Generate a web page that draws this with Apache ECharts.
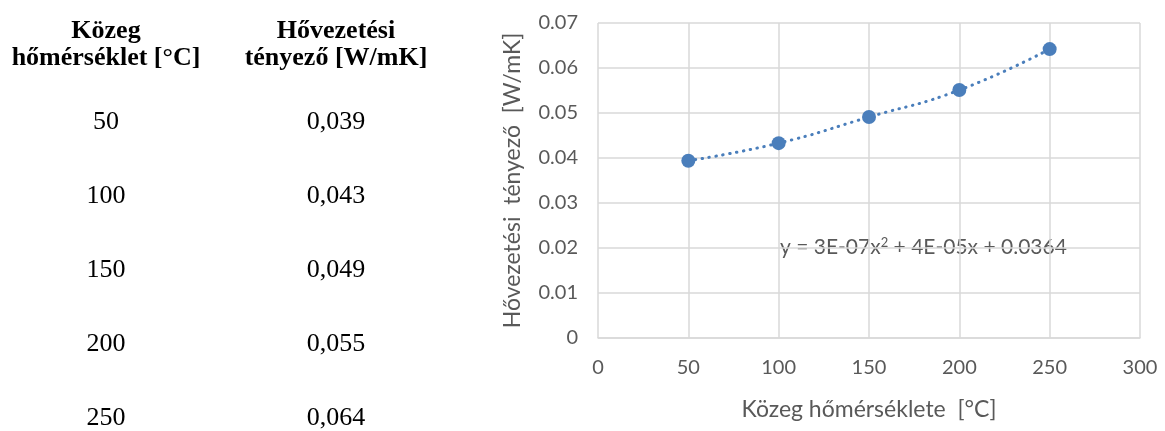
<!DOCTYPE html>
<html>
<head>
<meta charset="utf-8">
<script src="https://cdn.jsdelivr.net/npm/echarts@6/dist/echarts.min.js"></script>
<style>html,body{margin:0;padding:0;background:#fff;}#chart{width:1165px;height:431px;}</style>
</head>
<body>
<div id="chart"></div>
<script>
// Data
const temperatures = [50, 100, 150, 200, 250];
const tableConductivity = ['0,039', '0,043', '0,049', '0,055', '0,064'];
const chartConductivity = [0.0394, 0.0433, 0.0491, 0.0551, 0.0642];
const tableHeaders = [['Közeg', 'hőmérséklet [°C]'], ['Hővezetési', 'tényező [W/mK]']];
const xAxisTitle = 'Közeg hőmérséklete  [°C]';
const yAxisTitle = 'Hővezetési  tényező  [W/mK]';
const equationParts = ['y = 3E-07x', '2', ' + 4E-05x + 0.0364'];

const chart = echarts.init(document.getElementById('chart'));
const points = temperatures.map((t, i) => [t, chartConductivity[i]]);
const textColor = '#595959';
const serif = '"Liberation Serif", "Times New Roman", serif';
const sans = 'Lato, "Open Sans", sans-serif';
const colX = [106, 336];

const graphics = [];
tableHeaders.forEach((lines, c) => {
  lines.forEach((line, l) => {
    graphics.push({type: 'text', x: colX[c], y: 31 + l * 27,
      style: {text: line, font: 'bold 26px ' + serif, fill: '#000', textAlign: 'center', textVerticalAlign: 'middle'}});
  });
});
temperatures.forEach((t, i) => {
  const y = 122 + i * 74;
  graphics.push({type: 'text', x: colX[0], y: y,
    style: {text: String(t), font: '26px ' + serif, fill: '#000', textAlign: 'center', textVerticalAlign: 'middle'}});
  graphics.push({type: 'text', x: colX[1], y: y,
    style: {text: tableConductivity[i], font: '26px ' + serif, fill: '#000', textAlign: 'center', textVerticalAlign: 'middle'}});
});
graphics.push({type: 'text', x: 780, y: 247,
  style: {
    text: '{a|' + equationParts[0] + '}{s|' + equationParts[1] + '}{a|' + equationParts[2] + '}',
    textVerticalAlign: 'middle',
    rich: {
      a: {fontFamily: sans, fontSize: 21, fill: textColor, color: textColor},
      s: {fontFamily: sans, fontSize: 13, fill: textColor, color: textColor, verticalAlign: 'top', padding: [0, 0, 9, 0]}
    }
  }});

chart.setOption({
  animation: false,
  backgroundColor: '#fff',
  grid: {left: 598, top: 23, right: 25, bottom: 93},
  xAxis: {
    type: 'value', min: 0, max: 300, interval: 50,
    name: xAxisTitle, nameLocation: 'middle', nameGap: 60,
    nameTextStyle: {fontFamily: sans, fontSize: 23, color: textColor},
    axisLine: {show: true, lineStyle: {color: '#d9d9d9', width: 1.5}},
    axisTick: {show: false},
    axisLabel: {fontFamily: sans, fontSize: 20, color: textColor, margin: 20},
    splitLine: {show: true, lineStyle: {color: '#d9d9d9', width: 1.5}}
  },
  yAxis: {
    type: 'value', min: 0, max: 0.07, interval: 0.01,
    name: yAxisTitle, nameLocation: 'middle', nameGap: 74, nameRotate: 90,
    nameTextStyle: {fontFamily: sans, fontSize: 23, color: textColor},
    axisLine: {show: false},
    axisTick: {show: false},
    axisLabel: {fontFamily: sans, fontSize: 20, color: textColor, margin: 20,
      formatter: v => v === 0 ? '0' : v.toFixed(2)},
    splitLine: {show: true, lineStyle: {color: '#d9d9d9', width: 1.5}}
  },
  series: [
    {type: 'line', data: points, smooth: true, showSymbol: false, symbol: 'none',
      lineStyle: {color: '#4a7ebb', width: 3, type: [0.5, 6.5], cap: 'round'}, z: 2},
    {type: 'scatter', data: points, symbolSize: 14,
      itemStyle: {color: '#4a7ebb', opacity: 1}, z: 3}
  ],
  graphic: graphics
});
</script>
</body>
</html>
